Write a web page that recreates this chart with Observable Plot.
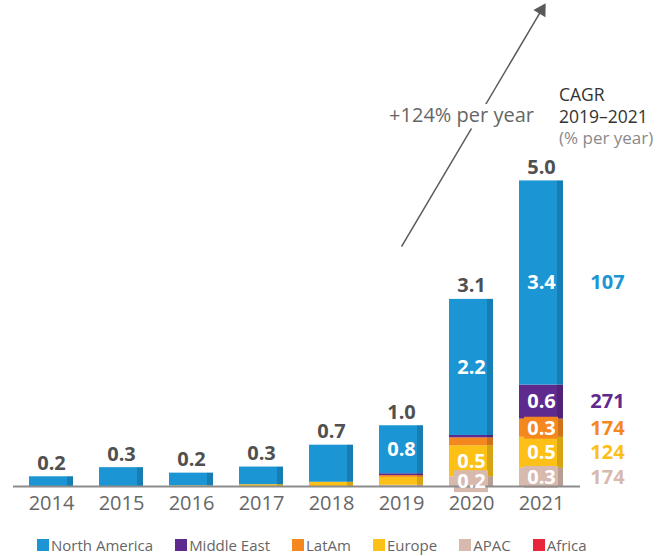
<!DOCTYPE html>
<html><head><meta charset="utf-8">
<script src="https://cdn.jsdelivr.net/npm/d3@7"></script>
<script src="https://cdn.jsdelivr.net/npm/@observablehq/plot@0.6"></script>
<style>
body{margin:0;background:#fff;font-family:"Open Sans",sans-serif;}
#legend{display:flex;gap:22px;padding-left:37px;margin-top:9px;height:20px;align-items:center;font-size:15px;color:#666;}
.item{display:flex;align-items:center;}
.sw{width:12px;height:12px;margin-right:2px;}
</style></head><body><div id="chart"></div><div id="legend"></div>
<script>
const years = ["2014","2015","2016","2017","2018","2019","2020","2021"];
// stacked bottom to top
const regions = ["APAC","Europe","LatAm","Africa","Middle East","North America"];
const legendOrder = ["North America","Middle East","LatAm","Europe","APAC","Africa"];
const colors = {"North America":"#1b95d3","Middle East":"#5f2a8e","LatAm":"#f5871f","Europe":"#fcc016","APAC":"#d8b9ad","Africa":"#e8253a"};
const northAmerica = [0.16,0.31,0.21,0.29,0.61,0.79,2.24,3.36];
const middleEast   = [0,0,0,0,0,0.03,0.04,0.56];
const latAm        = [0,0,0,0,0,0.03,0.13,0.30];
const africa       = [0,0,0,0,0,0,0,0];
const europe       = [0,0,0.01,0.03,0.07,0.13,0.51,0.51];
const apac         = [0,0,0,0,0,0.02,0.16,0.30];
const cagrRegions = ["North America","Middle East","LatAm","Europe","APAC"];
const cagrValues  = [107,271,174,124,174];
const growthLabel = "+124% per year";
const arrowFrom = {year:"2019", value:3.95};
const arrowTo   = {year:"2021", value:7.84};

const series = {"APAC":apac,"Europe":europe,"LatAm":latAm,"Africa":africa,"Middle East":middleEast,"North America":northAmerica};
const fmt = d3.format(".1f");
const rows = [];
years.forEach((yr,i)=>{
  let acc = 0;
  regions.forEach(r=>{
    const v = series[r][i];
    rows.push({year:yr, region:r, value:v, y1:acc, y2:acc+v, mid:acc+v/2,
      label: (+yr >= 2019 && v >= 0.15) ? fmt(v) : null});
    acc += v;
  });
});
const totals = years.map((yr,i)=>({year:yr, total:d3.sum(regions, r=>series[r][i])}));
const labelBoxes = rows.filter(d=>d.label && d.value*60 < 22).map(d=>({...d, b1:d.mid-0.18, b2:d.mid+0.18}));
const cagrRows = cagrRegions.map((r,k)=>{
  const row = rows.find(d=>d.year==="2021" && d.region===r);
  return {year:"2021", region:r, mid:row.mid, text:String(cagrValues[k])};
});

const plot = Plot.plot({
  width:672, height:526, marginLeft:13, marginRight:92, marginTop:0, marginBottom:40,
  style:{fontFamily:"'Open Sans', sans-serif", fontSize:"20px", background:"white"},
  x:{domain:years, paddingInner:0.365, paddingOuter:0.183, label:null},
  y:{domain:[0,8], axis:null},
  color:{domain:Object.keys(colors), range:Object.values(colors)},
  marks:[
    Plot.barY(rows, {x:"year", y1:"y1", y2:"y2", fill:"region"}),
    Plot.barY(rows, {x:"year", y1:"y1", y2:"y2", fill:"black", fillOpacity:0.15, insetLeft:38}),
    Plot.barY(labelBoxes, {x:"year", y1:"b1", y2:"b2", fill:"region", insetLeft:5, insetRight:5}),
    Plot.ruleY([0], {stroke:"#8c8c8c", strokeWidth:2}),
    Plot.axisX({tickSize:0, tickPadding:9, fontSize:20, fill:"#666", label:null}),
    Plot.text(rows, {x:"year", y:"mid", text:"label", fill:"white", fontWeight:"bold", fontSize:20, lineAnchor:"middle"}),
    Plot.text(totals, {x:"year", y:"total", text:d=>fmt(d.total), fill:"#505050", fontWeight:"bold", fontSize:20, lineAnchor:"bottom", dy:-7}),
    Plot.text(cagrRows, {x:"year", y:"mid", text:"text", fill:"region", fontWeight:"bold", fontSize:20, dx:66, lineAnchor:"middle"}),
    Plot.text([{year:"2021", v:6.6}], {x:"year", y:"v", text:()=>"CAGR\n2019–2021", textAnchor:"start", dx:17.5, lineAnchor:"top", fontSize:17.5, lineHeight:1.26, fill:"#333"}),
    Plot.text([{year:"2021", v:5.64}], {x:"year", y:"v", text:()=>"(% per year)", textAnchor:"start", dx:17.5, lineAnchor:"bottom", fontSize:17, fill:"#8a8a8a"}),
    Plot.link([{a:arrowFrom, b:arrowTo}], {x1:d=>d.a.year, y1:d=>d.a.value, x2:d=>d.b.year, y2:d=>d.b.value, stroke:"#595959", strokeWidth:1.5}),
    Plot.dot([arrowTo], {x:"year", y:"value", symbol:"triangle", r:5.2, fill:"#595959", rotate:31}),
    Plot.text([{year:"2019", v:6.107}], {x:"year", y:"v", text:()=>growthLabel, dx:60, fontSize:20, fill:"#666", stroke:"white", strokeWidth:14, paintOrder:"stroke", lineAnchor:"middle"})
  ]
});
document.getElementById("chart").appendChild(plot);
const leg = document.getElementById("legend");
legendOrder.forEach(r=>{
  const it = document.createElement("div"); it.className="item";
  const sw = document.createElement("span"); sw.className="sw"; sw.style.background=colors[r];
  const t = document.createElement("span"); t.textContent=r;
  it.appendChild(sw); it.appendChild(t); leg.appendChild(it);
});
</script></body></html>
